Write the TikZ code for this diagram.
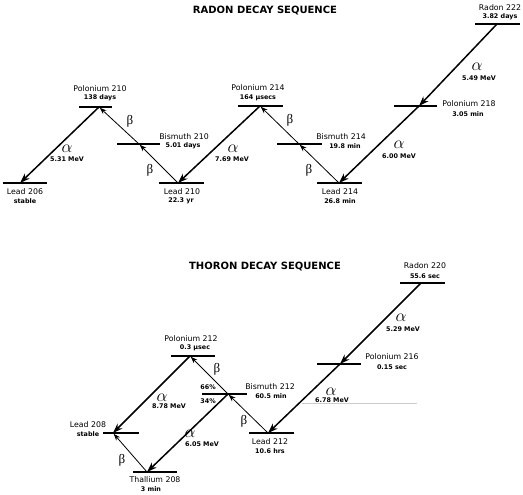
\documentclass[tikz,border=0pt]{standalone}
\usepackage{fontspec}
\setmainfont{DejaVu Sans}
\newfontfamily\greekserif{Liberation Serif}
\usepackage{tikz}
\usetikzlibrary{arrows.meta,positioning,calc}

\begin{document}
\begin{tikzpicture}[x=1pt, y=-1pt,
    iso/.style={font=\fontsize{7.8}{8}\selectfont, inner sep=0pt},
    life/.style={font=\fontsize{6.4}{7}\selectfont\bfseries, inner sep=0pt},
    heading/.style={font=\fontsize{10}{12}\selectfont\bfseries, inner sep=0pt},
    level/.style={line width=1.9pt},
    adecay/.style={line width=1.5pt, -{Stealth[length=10pt,width=7pt]}},
    bdecay/.style={line width=0.8pt, -{Stealth[length=7pt,width=5pt]}, shorten >=1pt},
    alab/.style={font=\fontsize{16}{16}\selectfont, inner sep=0pt},
    blab/.style={font=\fontsize{13}{13}\greekserif, inner sep=0pt}]
        \useasboundingbox (0,0) rectangle (523,495);

        %%% RADON %%%
        \node[heading] (rtitle) at (265,11) {RADON DECAY SEQUENCE};

        % points where the decays meet the levels
        \coordinate (rn222) at (497,24);
        \coordinate (po218) at (419,106);
        \coordinate (pb214) at (339,183);
        \coordinate (bi214) at (299,144);
        \coordinate (po214) at (260,106);
        \coordinate (pb210) at (178,183);
        \coordinate (bi210) at (139,144);
        \coordinate (po210) at (99,107);
        \coordinate (pb206) at (20,183);

        % levels
        \draw[level] (475,24) -- (520,24);
        \draw[level] (394,106) -- (437,106);
        \draw[level] (317,183) -- (362,183);
        \draw[level] (277,144) -- (322,144);
        \draw[level] (238,106) -- (283,106);
        \draw[level] (159,183) -- (204,183);
        \draw[level] (117,144) -- (160,144);
        \draw[level] (79,107) -- (112,107);
        \draw[level] (3,183) -- (47,183);

        % names and half lives
        \node[iso] (lrn222) at (500,8) {Radon 222};
        \node[life] (hrn222) at (500,17) {3.82 days};
        \node[iso] (lpo218) at (469,104) {Polonium 218};
        \node[life] (hpo218) at (468,114) {3.05 min};
        \node[iso] (lpb214) at (340,192) {Lead 214};
        \node[life] (hpb214) at (340,201) {26.8 min};
        \node[iso] (lbi214) at (341,137) {Bismuth 214};
        \node[life] (hbi214) at (345,146) {19.8 min};
        \node[iso] (lpo214) at (258,88) {Polonium 214};
        \node[life] (hpo214) at (258,98) {164 µsecs};
        \node[iso] (lpb210) at (182,192) {Lead 210};
        \node[life] (hpb210) at (181,201) {22.3 yr};
        \node[iso] (lbi210) at (184,137) {Bismuth 210};
        \node[life] (hbi210) at (183,146) {5.01 days};
        \node[iso] (lpo210) at (100,89) {Polonium 210};
        \node[life] (hpo210) at (100,98) {138 days};
        \node[iso] (lpb206) at (25,192) {Lead 206};
        \node[life] (hpb206) at (25,201) {stable};

        % decays
        \draw[adecay] (rn222) -- (po218);
        \draw[adecay] (po218) -- (pb214);
        \draw[bdecay] (pb214) -- (bi214);
        \draw[bdecay] (bi214) -- (po214);
        \draw[adecay] (po214) -- (pb210);
        \draw[bdecay] (pb210) -- (bi210);
        \draw[bdecay] (bi210) -- (po210);
        \draw[adecay] (po210) -- (pb206);

        % decay labels
        \node[alab] (a1) at (477,67) {$\alpha$};
        \node[life] (e1) at (479,78) {5.49 MeV};
        \node[alab] (a2) at (399,145) {$\alpha$};
        \node[life] (e2) at (399,156) {6.00 MeV};
        \node[blab] (b1) at (309,170) {β};
        \node[blab] (b2) at (290,120) {β};
        \node[alab] (a3) at (233,149) {$\alpha$};
        \node[life] (e3) at (232,159) {7.69 MeV};
        \node[blab] (b3) at (150,170) {β};
        \node[blab] (b4) at (130,121) {β};
        \node[alab] (a4) at (67,149) {$\alpha$};
        \node[life] (e4) at (67,159) {5.31 MeV};

        %%% THORON %%%
        \node[heading] (ttitle) at (265,267) {THORON DECAY SEQUENCE};

        \coordinate (rn220) at (421,283);
        \coordinate (po216) at (340,364);
        \coordinate (pb212) at (268,433);
        \coordinate (bi212) at (228,394);
        \coordinate (po212) at (190,356);
        \coordinate (tl208) at (147,472);
        \coordinate (pb208) at (113,433);

        % levels
        \draw[level] (400,283) -- (445,283);
        \draw[level] (317,364) -- (361,364);
        \draw[level] (249,433) -- (294,433);
        \draw[level] (202,394) -- (247,394);
        \draw[level] (171,356) -- (215,356);
        \draw[level] (133,472) -- (177,472);
        \draw[level] (103,433) -- (139,433);
        % faint guide line
        \draw[gray!40, line width=0.4pt] (302,403) -- (417,403);

        % names and half lives
        \node[iso] (lrn220) at (425,266) {Radon 220};
        \node[life] (hrn220) at (425,276) {55.6 sec};
        \node[iso] (lpo216) at (392,357) {Polonium 216};
        \node[life] (hpo216) at (392,367) {0.15 sec};
        \node[iso] (lpb212) at (270,442) {Lead 212};
        \node[life] (hpb212) at (270,451) {10.6 hrs};
        \node[iso] (lbi212) at (270,387) {Bismuth 212};
        \node[life] (hbi212) at (271,396) {60.5 min};
        \node[life] (p66) at (208,387) {66\%};
        \node[life] (p34) at (208,401) {34\%};
        \node[iso] (lpo212) at (191,339) {Polonium 212};
        \node[life] (hpo212) at (195,348) {0.3 µsec};
        \node[iso] (ltl208) at (155,480) {Thallium 208};
        \node[life] (htl208) at (151,489) {3 min};
        \node[iso] (lpb208) at (88,425) {Lead 208};
        \node[life] (hpb208) at (88,434) {stable};

        % decays
        \draw[adecay] (rn220) -- (po216);
        \draw[adecay] (po216) -- (pb212);
        \draw[bdecay] (pb212) -- (bi212);
        \draw[bdecay] (bi212) -- (po212);
        \draw[adecay] (po212) -- (pb208);
        \draw[adecay] (bi212) -- (tl208);
        \draw[bdecay] (tl208) -- (pb208);

        % decay labels
        \node[alab] (a5) at (401,318) {$\alpha$};
        \node[life] (e5) at (403,329) {5.29 MeV};
        \node[alab] (a6) at (331,392) {$\alpha$};
        \node[life] (e6) at (332,400) {6.78 MeV};
        \node[blab] (b5) at (244,421) {β};
        \node[blab] (b6) at (217,369) {β};
        \node[alab] (a7) at (162,398) {$\alpha$};
        \node[life] (e7) at (169,406) {8.78 MeV};
        \node[alab] (a8) at (190,434) {$\alpha$};
        \node[life] (e8) at (202,444) {6.05 MeV};
        \node[blab] (b7) at (122,460) {β};
\end{tikzpicture}
\end{document}
